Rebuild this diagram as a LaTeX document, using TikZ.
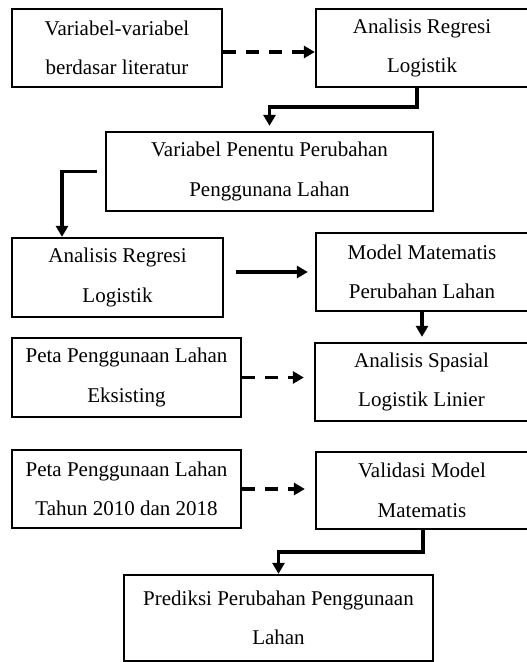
\documentclass[tikz,border=0pt]{standalone}
\usepackage{fontspec}
\setmainfont{Liberation Serif}
\usetikzlibrary{arrows.meta, positioning}

\begin{document}
\begin{tikzpicture}[
      x=1pt, y=1pt, >={Triangle[length=11pt,width=12pt]},
      box/.style={draw, line width=2.3pt, rectangle, inner sep=0pt, align=center,
        font=\fontsize{21}{39.5}\selectfont},
      flow/.style={->, line width=3.2pt},
      dflow/.style={flow, dash pattern=on 13pt off 10pt},
      ]
      \clip (0,0) rectangle (527,662);

      \node[box, minimum width=210pt, minimum height=78pt] (b_1) at (117,614)     {Variabel-variabel\\berdasar literatur};
      \node[box, minimum width=212pt, minimum height=78pt] (b_2) at (422,614)     {Analisis Regresi\\Logistik};
      \node[box, minimum width=327pt, minimum height=79pt] (b_3) at (269.5,490.5) {Variabel Penentu Perubahan\\Penggunana Lahan};
      \node[box, minimum width=211pt, minimum height=79pt] (b_4) at (117.5,384.5) {Analisis Regresi\\Logistik};
      \node[box, minimum width=212pt, minimum height=78pt] (b_5) at (422,390)     {Model Matematis\\Perubahan Lahan};
      \node[box, minimum width=213pt, minimum height=78pt] (b_6) at (421.5,280)   {Analisis Spasial\\Logistik Linier};
      \node[box, minimum width=229pt, minimum height=79pt] (b_7) at (126.5,284.5) {Peta Penggunaan Lahan\\Eksisting};
      \node[box, minimum width=229pt, minimum height=78pt] (b_8) at (126.5,173)   {Peta Penggunaan Lahan\\Tahun 2010 dan 2018};
      \node[box, minimum width=212pt, minimum height=77pt] (b_9) at (422,171.5)   {Validasi Model\\Matematis};
      \node[box, minimum width=309pt, minimum height=86pt] (b_10) at (278.5,44)   {Prediksi Perubahan Penggunaan\\Lahan};

      % bends of the elbow connectors
      \coordinate (k_1) at (417,555);
      \coordinate (k_2) at (62,0);
      \coordinate (k_3) at (423,110);

      \draw[dflow] ([yshift=-4pt]b_1.east) -- ([yshift=-4pt]b_1.east -| b_2.west);
      \draw[flow, shorten >=5pt] (k_1 |- b_2.south) -- (k_1) -| (b_3.north);
      \draw[flow, shorten <=8pt] (b_3.west) -| (k_2 |- b_4.north);
      \draw[flow, shorten <=12pt, shorten >=7pt] (b_4.east |- b_5.west) -- (b_5.west);
      \draw[flow, shorten >=5pt] (b_5.south) -- (b_5.south |- b_6.north);
      \draw[dflow, shorten >=10pt] (b_7.east) -- (b_7.east -| b_6.west);
      \draw[dflow, shorten >=10pt] (b_8.east) -- (b_8.east -| b_9.west);
      \draw[flow] (k_3 |- b_9.south) -- (k_3) -| (b_10.north);
    \end{tikzpicture}
\end{document}
